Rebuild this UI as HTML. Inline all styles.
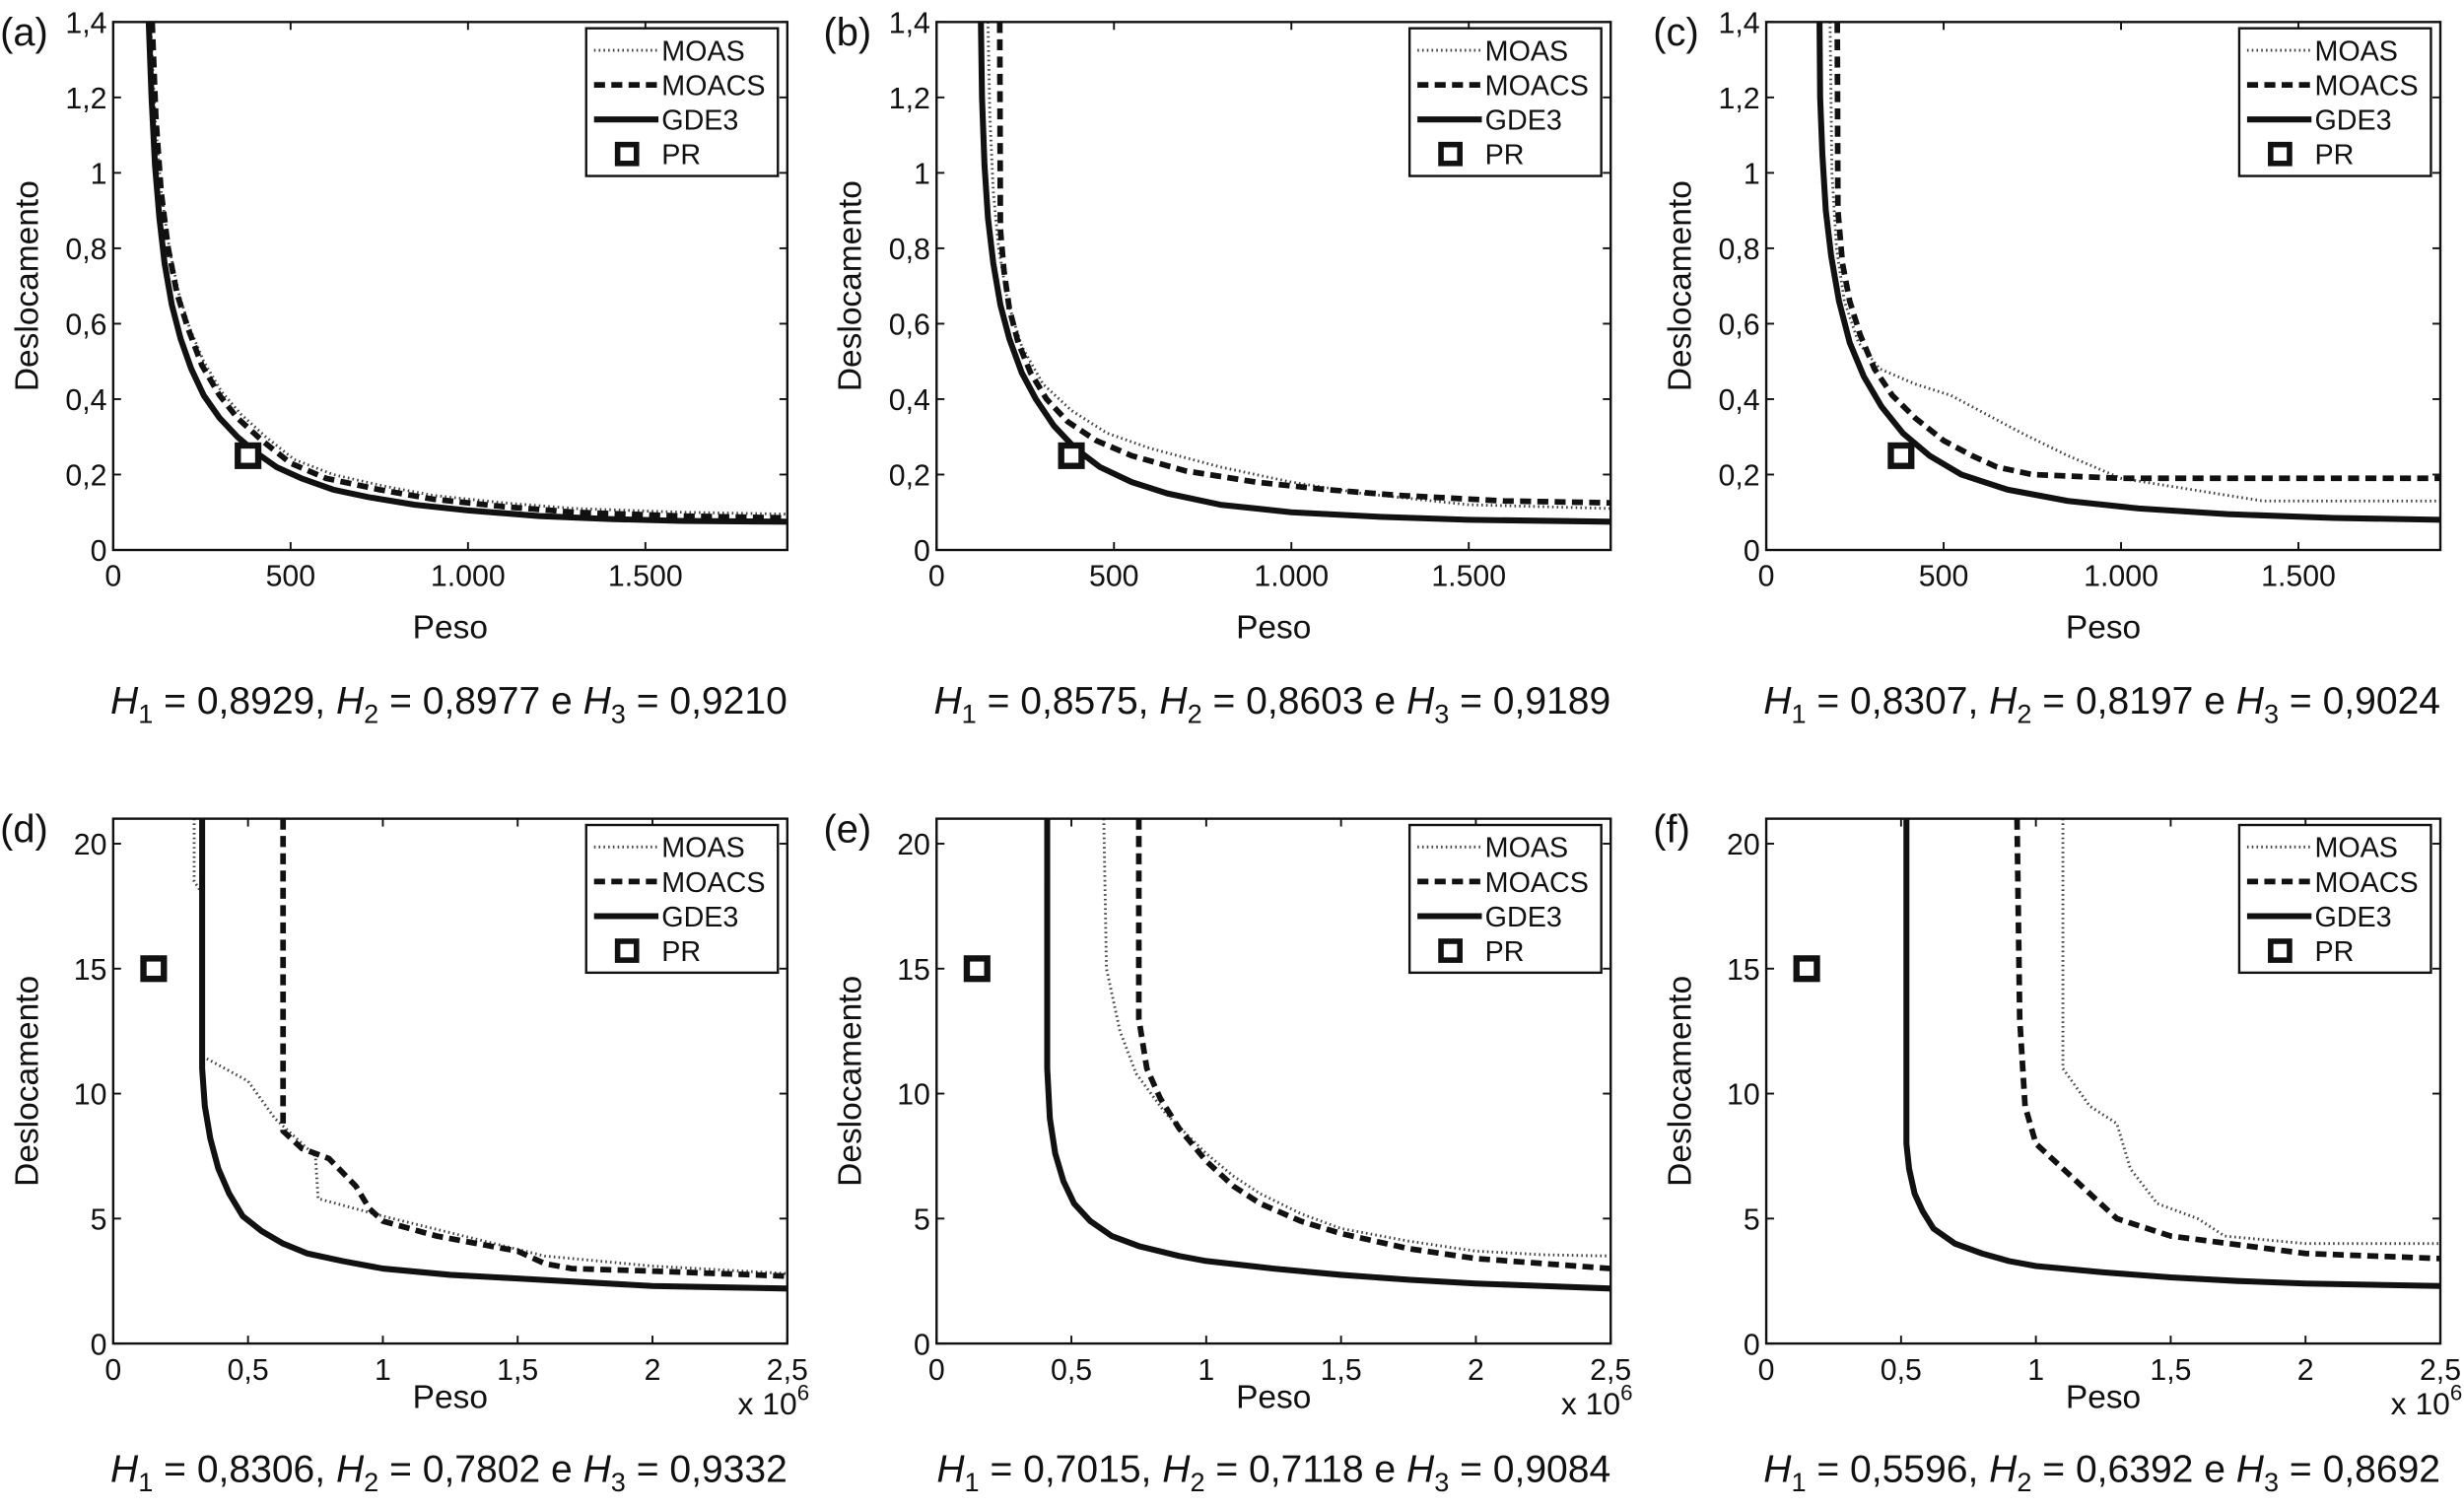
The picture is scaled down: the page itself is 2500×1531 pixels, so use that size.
<!DOCTYPE html>
<html><head><meta charset="utf-8"><style>
html,body{margin:0;padding:0;background:#fff}
svg{display:block}
text{font-family:"Liberation Sans",sans-serif;fill:#111}
</style></head><body>
<svg id="fig" width="2500" height="1531" viewBox="0 0 1568 960.3" xmlns="http://www.w3.org/2000/svg"></svg>
<script>
// ---- data ----
const panelLetters = ['a','b','c','d','e','f'];
const captionValues = [
  ['0,8929','0,8977','0,9210'],
  ['0,8575','0,8603','0,9189'],
  ['0,8307','0,8197','0,9024'],
  ['0,8306','0,7802','0,9332'],
  ['0,7015','0,7118','0,9084'],
  ['0,5596','0,6392','0,8692']
];
const xTicksTop = [0,500,1000,1500];
const xTickLabelsTop = ['0','500','1.000','1.500'];
const yTicksTop = [0,0.2,0.4,0.6,0.8,1,1.2,1.4];
const yTickLabelsTop = ['0','0,2','0,4','0,6','0,8','1','1,2','1,4'];
const xTicksBot = [0,0.5,1,1.5,2,2.5];
const xTickLabelsBot = ['0','0,5','1','1,5','2','2,5'];
const yTicksBot = [0,5,10,15,20];
const yTickLabelsBot = ['0','5','10','15','20'];

const gdeA = [[100,1.4],[108,1.2],[118,1.02],[130,0.88],[145,0.76],[165,0.65],[190,0.56],[220,0.48],[255,0.41],[300,0.35],[350,0.3],[400,0.26],[460,0.22],[530,0.19],[620,0.16],[720,0.14],[850,0.12],[1000,0.105],[1200,0.09],[1400,0.082],[1600,0.077],[1900,0.075]];
const moacsA = [[110,1.4],[120,1.15],[135,0.95],[155,0.8],[180,0.68],[210,0.59],[250,0.49],[300,0.41],[350,0.35],[420,0.29],[500,0.23],[600,0.19],[750,0.16],[900,0.135],[1100,0.115],[1300,0.1],[1600,0.09],[1900,0.085]];
const moasA = [[105,1.4],[118,1.15],[135,0.95],[158,0.8],[185,0.68],[215,0.59],[255,0.5],[305,0.42],[360,0.36],[430,0.3],[510,0.24],[620,0.2],[760,0.17],[900,0.145],[1100,0.125],[1300,0.11],[1600,0.1],[1900,0.095]];
const prA = [380,0.25];

const gdeB = [[125,1.4],[128,1.2],[135,1.02],[145,0.88],[160,0.76],[180,0.65],[205,0.56],[240,0.47],[280,0.4],[330,0.33],[390,0.27],[460,0.22],[550,0.18],[650,0.15],[800,0.12],[1000,0.1],[1250,0.088],[1500,0.08],[1900,0.075]];
const moacsB = [[178,1.4],[180,0.85],[190,0.74],[205,0.64],[230,0.55],[265,0.47],[310,0.4],[370,0.34],[450,0.29],[550,0.25],[700,0.21],[900,0.18],[1100,0.16],[1300,0.145],[1600,0.13],[1900,0.125]];
const moasB = [[145,1.4],[150,1.15],[160,0.95],[175,0.8],[200,0.66],[240,0.54],[300,0.44],[380,0.37],[480,0.31],[600,0.27],[800,0.22],[1000,0.18],[1200,0.15],[1500,0.12],[1900,0.11]];
const prB = [380,0.25];

const gdeC = [[150,1.4],[152,1.2],[158,1.05],[168,0.9],[183,0.78],[205,0.66],[235,0.55],[275,0.46],[325,0.38],[385,0.31],[460,0.25],[550,0.2],[680,0.16],[850,0.13],[1050,0.11],[1300,0.095],[1600,0.085],[1900,0.08]];
const moacsC = [[200,1.4],[202,0.9],[215,0.76],[235,0.66],[265,0.57],[305,0.48],[355,0.41],[420,0.35],[500,0.29],[580,0.25],[650,0.22],[750,0.2],[1000,0.19],[1900,0.19]];
const moasC = [[180,1.4],[185,1.0],[198,0.8],[220,0.66],[260,0.55],[320,0.48],[420,0.44],[520,0.41],[620,0.36],[720,0.31],[850,0.25],[1000,0.19],[1200,0.16],[1400,0.13],[1900,0.13]];
const prC = [380,0.25];

const gdeD = [[0.33,21],[0.33,11],[0.34,9.5],[0.36,8.2],[0.39,7],[0.43,6],[0.48,5.1],[0.55,4.5],[0.63,4],[0.72,3.6],[0.85,3.3],[1.0,3.0],[1.25,2.75],[1.5,2.6],[1.75,2.45],[2.0,2.3],[2.25,2.25],[2.5,2.2]];
const moacsD = [[0.63,21],[0.63,8.5],[0.7,7.8],[0.8,7.4],[0.9,6.3],[0.95,5.4],[1.0,4.9],[1.2,4.3],[1.5,3.7],[1.6,3.2],[1.7,3.0],[2.0,2.9],[2.5,2.7]];
const moasD = [[0.3,21],[0.3,18.5],[0.33,18],[0.33,11.5],[0.5,10.5],[0.6,9],[0.75,7.5],[0.76,5.8],[1.0,5.1],[1.3,4.3],[1.6,3.5],[2.0,3.1],[2.5,2.8]];
const prD = [0.15,15];

const gdeE = [[0.41,21],[0.41,11],[0.42,9],[0.44,7.6],[0.47,6.5],[0.51,5.6],[0.57,4.9],[0.65,4.3],[0.75,3.9],[0.9,3.5],[1.0,3.3],[1.25,3.0],[1.5,2.75],[1.75,2.55],[2.0,2.4],[2.25,2.3],[2.5,2.2]];
const moacsE = [[0.75,21],[0.75,13],[0.78,11],[0.83,9.8],[0.9,8.6],[1.0,7.3],[1.1,6.3],[1.2,5.6],[1.35,4.9],[1.5,4.4],[1.75,3.8],[2.0,3.4],[2.25,3.2],[2.5,3.0]];
const moasE = [[0.62,21],[0.63,15],[0.68,12.5],[0.74,10.8],[0.85,9.2],[1.0,7.6],[1.1,6.7],[1.2,6],[1.35,5.2],[1.5,4.6],[1.75,4.1],[2.0,3.7],[2.25,3.55],[2.5,3.5]];
const prE = [0.15,15];

const gdeF = [[0.52,21],[0.52,8],[0.53,7],[0.55,6],[0.58,5.3],[0.62,4.6],[0.7,4.0],[0.8,3.6],[0.9,3.3],[1.0,3.1],[1.25,2.85],[1.5,2.65],[1.75,2.5],[2.0,2.4],[2.25,2.35],[2.5,2.3]];
const moacsF = [[0.93,21],[0.94,13],[0.96,9.5],[1.0,8],[1.1,7],[1.2,6],[1.3,5],[1.5,4.3],[2.0,3.6],[2.5,3.4]];
const moasF = [[1.1,21],[1.1,11],[1.2,9.5],[1.3,8.8],[1.35,7],[1.45,5.6],[1.6,5.0],[1.7,4.3],[2.0,4.0],[2.5,4.0]];
const prF = [0.15,15];

const seriesSets = [
  [moasA,moacsA,gdeA,prA],[moasB,moacsB,gdeB,prB],[moasC,moacsC,gdeC,prC],
  [moasD,moacsD,gdeD,prD],[moasE,moacsE,gdeE,prE],[moasF,moacsF,gdeF,prF]
];

// ---- drawing ----
const NS='http://www.w3.org/2000/svg';
const svg=document.getElementById('fig');
function mk(tag,attrs,parent){const e=document.createElementNS(NS,tag);for(const k in attrs)e.setAttribute(k,attrs[k]);(parent||svg).appendChild(e);return e;}
const lefts=[72,596,1124];
const series=['moas','moacs','gde3'];
const styles=[
  {w:1.8,d:'1 2',c:'#444'},
  {w:3.6,d:'7 4',c:'#111'},
  {w:3.8,d:'none',c:'#111'}
];
for(let p=0;p<6;p++){
  const row=Math.floor(p/3), col=p%3;
  const L=lefts[col], R=L+429;
  const T=row===0?14:521, B=row===0?350:855;
  const xmax=row===0?1900:2.5, ymax=row===0?1.4:21;
  const xT=row===0?xTicksTop:xTicksBot, xL=row===0?xTickLabelsTop:xTickLabelsBot;
  const yT=row===0?yTicksTop:yTicksBot, yL=row===0?yTickLabelsTop:yTickLabelsBot;
  const sx=v=>L+v/xmax*(R-L), sy=v=>B-v/ymax*(B-T);
  const g=mk('g',{});
  
  
  const clipId='clip'+p;
  const cp=mk('clipPath',{id:clipId},g);mk('rect',{x:L,y:T,width:R-L,height:B-T},cp);
  xT.forEach((v,i)=>{
    const x=sx(v);
    const t1=mk('line',{x1:x,y1:B,x2:x,y2:B-5,stroke:'#111','stroke-width':1.2},g);
    
    
    mk('line',{x1:x,y1:T,x2:x,y2:T+5,stroke:'#111','stroke-width':1.2},g);
    const tx=mk('text',{x:x,y:B+23,'font-size':19,'text-anchor':'middle'},g);
    tx.textContent=xL[i];
    
    
  });
  yT.forEach((v,i)=>{
    const y=sy(v);
    mk('line',{x1:L,y1:y,x2:L+5,y2:y,stroke:'#111','stroke-width':1.2},g);
    mk('line',{x1:R,y1:y,x2:R-5,y2:y,stroke:'#111','stroke-width':1.2},g);
    const tx=mk('text',{x:L-4,y:y+7,'font-size':19,'text-anchor':'end'},g);
    tx.textContent=yL[i];
    
    
  });
  const gs=mk('g',{'clip-path':'url(#'+clipId+')'},g);
  for(let s=0;s<3;s++){
    const pts=seriesSets[p][s].map(d=>sx(d[0]).toFixed(1)+','+sy(d[1]).toFixed(1)).join(' ');
    const pl=mk('polyline',{points:pts,fill:'none',stroke:styles[s].c,'stroke-width':styles[s].w,'stroke-dasharray':styles[s].d,'stroke-linejoin':'round'},gs);
    
    
  }
  const pr=seriesSets[p][3];
  const sq=mk('rect',{x:sx(pr[0])-6.5,y:sy(pr[1])-6.5,width:13,height:13,fill:'#fff',stroke:'#111','stroke-width':4},g);
  
  
  const fr=mk('rect',{x:L,y:T,width:R-L,height:B-T,fill:'none',stroke:'#111','stroke-width':1.5},g);
  
  
  const lg=mk('g',{},g);
  
  
  const lx=R-128, ly=T+4;
  mk('rect',{x:lx,y:ly,width:122,height:94,fill:'#fff',stroke:'#111','stroke-width':1.5},lg);
  const names=['MOAS','MOACS','GDE3','PR'];
  names.forEach((n,i)=>{
    const y=ly+14+i*22;
    if(i<3) mk('line',{x1:lx+5,y1:y,x2:lx+46,y2:y,stroke:styles[i].c,'stroke-width':styles[i].w,'stroke-dasharray':styles[i].d},lg);
    else mk('rect',{x:lx+20,y:y-6,width:12,height:12,fill:'#fff',stroke:'#111','stroke-width':3.5},lg);
    const t=mk('text',{x:lx+48,y:y+6.5,'font-size':18},lg);
    t.textContent=n;
    
    
  });
  const pl=mk('text',{x:L-72,y:T+15,'font-size':25},g);
  pl.textContent='('+panelLetters[p]+')';
  
  
  const yt=mk('text',{x:0,y:0,'font-size':21,'text-anchor':'middle',transform:'translate('+(L-48)+','+((T+B)/2)+') rotate(-90)'},g);
  yt.textContent='Deslocamento';
  
  
  const xt=mk('text',{x:(L+R)/2,y:row===0?B+56:B+41,'font-size':21,'text-anchor':'middle'},g);
  xt.textContent='Peso';
  
  
  if(row===1){
    const ex=mk('text',{x:R+14,y:B+45,'font-size':20,'text-anchor':'end'},g);
    ex.innerHTML='x 10<tspan dy="-9" font-size="14">6</tspan>';
    
    
  }
  const cv=captionValues[p];
  const cy=row===0?B+104:B+88;
  const ct=mk('text',{x:R,y:cy,'font-size':24.5,'text-anchor':'end'},g);
  ct.innerHTML='<tspan font-style="italic">H</tspan><tspan dy="6" font-size="17">1</tspan><tspan dy="-6"> = '+cv[0]+', </tspan><tspan font-style="italic">H</tspan><tspan dy="6" font-size="17">2</tspan><tspan dy="-6"> = '+cv[1]+' e </tspan><tspan font-style="italic">H</tspan><tspan dy="6" font-size="17">3</tspan><tspan dy="-6"> = '+cv[2]+'</tspan>';
  
  
}
</script>
</body></html>
